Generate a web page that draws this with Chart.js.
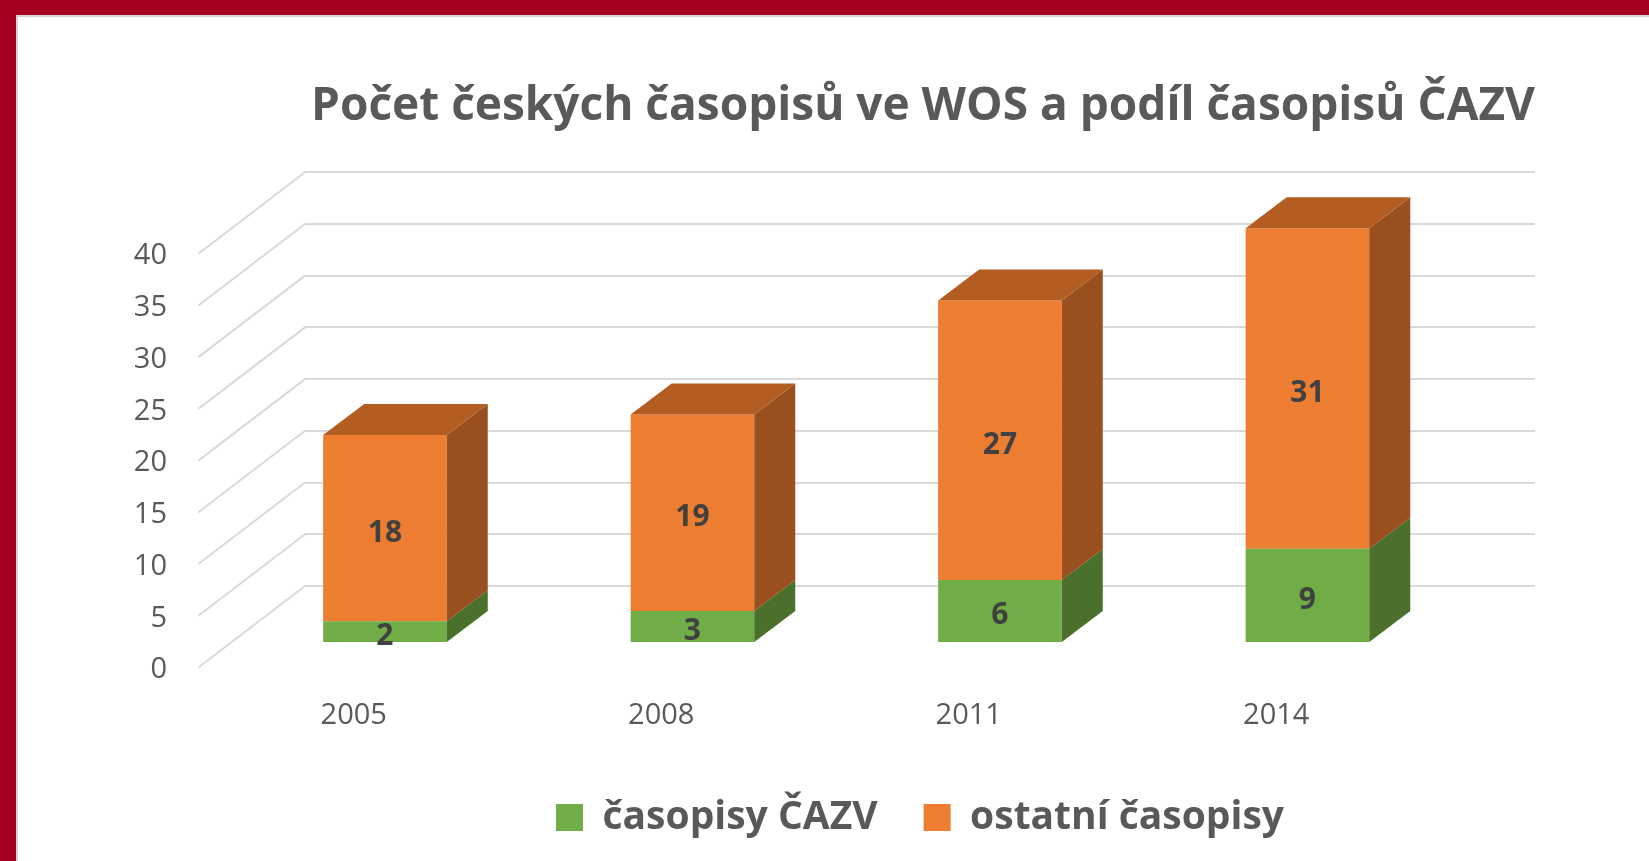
<!DOCTYPE html>
<html lang="cs">
<head>
<meta charset="utf-8">
<title>Počet českých časopisů ve WOS a podíl časopisů ČAZV</title>
<script src="https://cdn.jsdelivr.net/npm/chart.js@4.4.1/dist/chart.umd.min.js"></script>
<style>
    html, body { margin: 0; padding: 0; background: #fff; overflow: hidden; }
    .frame { position: absolute; }
    .frame-top { left: 0; top: 0; width: 1649px; height: 15px; background: #a50021; }
    .frame-left { left: 0; top: 0; width: 16px; height: 861px; background: #a50021; }
    .edge-top { left: 16px; top: 15px; width: 1633px; height: 2px; background: #d6d6d6; }
    .edge-left { left: 16px; top: 15px; width: 2px; height: 846px; background: #d6d6d6; }
    #journalsChart { position: absolute; left: 0; top: 0; }
</style>
</head>
<body>
<div class="frame frame-top"></div>
<div class="frame frame-left"></div>
<div class="frame edge-top"></div>
<div class="frame edge-left"></div>
<canvas id="journalsChart" width="1649" height="861"></canvas>
<script>
// Data
const years = ['2005', '2008', '2011', '2014'];
const cazvJournals = [2, 3, 6, 9];
const otherJournals = [18, 19, 27, 31];
const seriesNames = ['časopisy ČAZV', 'ostatní časopisy'];
const chartTitle = 'Počet českých časopisů ve WOS a podíl časopisů ČAZV';
const yMin = 0;
const yMax = 40;
const yStep = 5;

const textColor = '#595959';
const gridColor = '#d9d9d9';

// fake 3D offsets (pixels)
const floorDepth = { dx: -106, dy: 81 };   // back wall -> front edge of floor
const barDepth = { dx: 41, dy: -31 };      // front face -> back face of a column

Chart.defaults.font.family = "'Open Sans', 'Noto Sans', sans-serif";
Chart.defaults.color = textColor;

// bars sit on hidden axes (x index, y value) so they land in front of the back wall
const toPoints = values => values.map((v, i) => ({ x: i, y: v }));

function fillPolygon(ctx, pts) {
    ctx.beginPath();
    ctx.moveTo(pts[0][0], pts[0][1]);
    for (let i = 1; i < pts.length; i++) ctx.lineTo(pts[i][0], pts[i][1]);
    ctx.closePath();
    ctx.fill();
}

// Diagonal floor lines from the back wall grid towards the viewer
const floorLinesPlugin = {
    id: 'floorLines',
    beforeDatasetsDraw(chart) {
        const { ctx, chartArea } = chart;
        const y = chart.scales.y;
        ctx.save();
        ctx.strokeStyle = gridColor;
        ctx.lineWidth = 2;
        ctx.lineCap = 'round';
        y.ticks.forEach(tick => {
            const py = y.getPixelForValue(tick.value);
            ctx.beginPath();
            ctx.moveTo(chartArea.left, py);
            ctx.lineTo(chartArea.left + floorDepth.dx, py + floorDepth.dy);
            ctx.stroke();
        });
        ctx.restore();
    }
};

// Side and top faces of the columns + value labels
const columnsPlugin = {
    id: 'columns3d',
    afterDatasetsDraw(chart) {
        const { ctx } = chart;
        const last = chart.data.datasets.length - 1;
        ctx.save();
        chart.data.datasets.forEach((ds, di) => {
            chart.getDatasetMeta(di).data.forEach(bar => {
                const { x, y, base, width } = bar.getProps(['x', 'y', 'base', 'width'], true);
                const left = x - width / 2;
                const right = x + width / 2;
                const top = Math.min(y, base);
                const bottom = Math.max(y, base);
                ctx.fillStyle = ds.sideColor;
                fillPolygon(ctx, [[right, top], [right + barDepth.dx, top + barDepth.dy],
                    [right + barDepth.dx, bottom + barDepth.dy], [right, bottom]]);
                if (di === last) {
                    ctx.fillStyle = ds.topColor;
                    fillPolygon(ctx, [[left, top], [left + barDepth.dx, top + barDepth.dy],
                        [right + barDepth.dx, top + barDepth.dy], [right, top]]);
                }
            });
        });
        // value labels in the middle of each front face
        ctx.fillStyle = '#404040';
        ctx.font = "bold 30px 'Open Sans', 'Noto Sans', sans-serif";
        ctx.textAlign = 'center';
        ctx.textBaseline = 'middle';
        chart.data.datasets.forEach((ds, di) => {
            chart.getDatasetMeta(di).data.forEach((bar, i) => {
                const { x, y, base } = bar.getProps(['x', 'y', 'base'], true);
                ctx.fillText(String(ds.data[i].y), x, (y + base) / 2 + 5);
            });
        });
        ctx.restore();
    }
};

document.addEventListener('DOMContentLoaded', function () {
    const ctx = document.getElementById('journalsChart').getContext('2d');
    new Chart(ctx, {
        type: 'bar',
        data: {
            labels: years,
            datasets: [{
                label: seriesNames[0],
                data: toPoints(cazvJournals),
                backgroundColor: '#70ad47',
                sideColor: '#4a702b',
                topColor: '#5c8c3a',
                borderWidth: 0,
                xAxisID: 'xBar',
                yAxisID: 'yBar',
                clip: false
            }, {
                label: seriesNames[1],
                data: toPoints(otherJournals),
                backgroundColor: '#ed7d31',
                sideColor: '#9a4f1e',
                topColor: '#b45d22',
                borderWidth: 0,
                xAxisID: 'xBar',
                yAxisID: 'yBar',
                clip: false
            }]
        },
        options: {
            responsive: false,
            animation: false,
            events: [],
            categoryPercentage: 0.402,
            barPercentage: 1,
            layout: {
                padding: { top: 67, right: 114, bottom: 14, left: 18 }
            },
            plugins: {
                title: {
                    display: true,
                    text: chartTitle,
                    align: 'end',
                    color: textColor,
                    font: { size: 46, weight: 'bold' },
                    padding: { top: 12, bottom: 38 }
                },
                legend: {
                    position: 'bottom',
                    fullSize: false,
                    labels: {
                        color: textColor,
                        font: { size: 39, weight: 'bold' },
                        boxWidth: 27,
                        boxHeight: 27,
                        padding: 46
                    }
                },
                tooltip: { enabled: false }
            },
            scales: {
                x: {
                    type: 'category',
                    offset: true,
                    grid: { display: false, drawTicks: false },
                    border: { display: false },
                    ticks: {
                        color: textColor,
                        font: { size: 29 },
                        labelOffset: -105,
                        padding: 112,
                        maxRotation: 0,
                        autoSkip: false
                    },
                    afterFit: scale => { scale.height = 166; }
                },
                y: {
                    type: 'linear',
                    position: 'left',
                    min: yMin,
                    max: yMax,
                    grid: { color: gridColor, lineWidth: 2, drawTicks: false },
                    border: { display: false },
                    ticks: {
                        stepSize: yStep,
                        color: textColor,
                        font: { size: 29 },
                        labelOffset: 84,
                        padding: 138
                    },
                    afterFit: scale => { scale.width = 287; }
                },
                xBar: {
                    type: 'linear',
                    axis: 'x',
                    position: 'bottom',
                    display: false,
                    offset: false,
                    stacked: true,
                    min: -0.26,
                    max: years.length - 0.26,
                    ticks: { stepSize: 1 }
                },
                yBar: {
                    type: 'linear',
                    axis: 'y',
                    position: 'left',
                    display: false,
                    stacked: true,
                    min: yMin + 5.41,
                    max: yMax + 5.41
                }
            }
        },
        plugins: [floorLinesPlugin, columnsPlugin]
    });
});
</script>
</body>
</html>
